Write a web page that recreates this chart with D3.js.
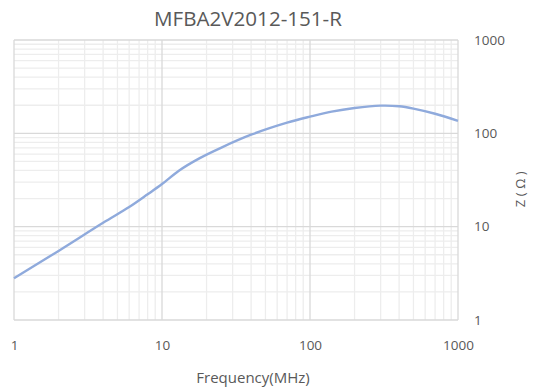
<!DOCTYPE html>
<html><head><meta charset="utf-8">
<script src="https://cdn.jsdelivr.net/npm/d3@7"></script>
<style>html,body{margin:0;padding:0;background:#fff}svg{display:block}text{font-family:"Open Sans",sans-serif;fill:#595959}</style>
</head><body>
<svg id="c" width="536" height="390"></svg>
<script>
const title = "MFBA2V2012-151-R";
const xTitle = "Frequency(MHz)";
const yTitle = "Z(Ω)";
const freq = [1, 2, 4, 6, 8, 10, 13, 18, 25, 40, 70, 100, 140, 200, 300, 400, 500, 700, 1000];
const impedance = [2.8, 5.5, 11, 16.2, 22.2, 28.6, 39.8, 54.3, 70, 96.6, 130, 151, 171, 187, 198, 195, 184, 162, 136];
const xTicks = [1, 10, 100, 1000];
const yTicks = [1, 10, 100, 1000];

const svg = d3.select("#c");
const m = {l: 14, r: 458, t: 40, b: 320};
const x = d3.scaleLog().domain([1, 1000]).range([m.l, m.r]);
const y = d3.scaleLog().domain([1, 1000]).range([m.b, m.t]);

const minor = [];
for (let d = 1; d < 1000; d *= 10) for (let k = 2; k <= 9; k++) minor.push(d * k);

const g = svg.append("g");
g.selectAll(".vx").data(minor).join("line")
  .attr("x1", d => x(d)).attr("x2", d => x(d)).attr("y1", m.t).attr("y2", m.b)
  .attr("stroke", "#ededed").attr("stroke-width", 1.3);
g.selectAll(".hy").data(minor).join("line")
  .attr("y1", d => y(d)).attr("y2", d => y(d)).attr("x1", m.l).attr("x2", m.r)
  .attr("stroke", "#ededed").attr("stroke-width", 1.3);
g.selectAll(".mx").data(xTicks).join("line")
  .attr("x1", d => x(d)).attr("x2", d => x(d)).attr("y1", m.t).attr("y2", m.b)
  .attr("stroke", "#d9d9d9").attr("stroke-width", 1.3);
g.selectAll(".my").data(yTicks).join("line")
  .attr("y1", d => y(d)).attr("y2", d => y(d)).attr("x1", m.l).attr("x2", m.r)
  .attr("stroke", "#d9d9d9").attr("stroke-width", 1.3);

const line = d3.line().x((d, i) => x(freq[i])).y(d => y(d)).curve(d3.curveCatmullRom.alpha(0.5));
svg.append("path").datum(impedance).attr("d", line)
  .attr("fill", "none").attr("stroke", "#8faadc").attr("stroke-width", 2.4);

const xa = d3.axisBottom(x).tickValues(xTicks).tickFormat(d3.format("d")).tickSize(0).tickPadding(0);
const xg = svg.append("g").attr("transform", `translate(0,${m.b})`).call(xa);
xg.select(".domain").remove();
xg.selectAll("text").attr("y", 29.5).attr("dy", 0).style("font-size", "13.5px").attr("fill", "#595959");

const ya = d3.axisRight(y).tickValues(yTicks).tickFormat(d3.format("d")).tickSize(0).tickPadding(0);
const yg = svg.append("g").attr("transform", `translate(${m.r + 16},0)`).call(ya);
yg.select(".domain").remove();
yg.selectAll("text").attr("x", 0).style("font-size", "13.5px").attr("fill", "#595959");

svg.append("text").attr("x", 248).attr("y", 26).attr("text-anchor", "middle")
  .style("font-size", "20.6px").text(title);
svg.append("text").attr("x", 253).attr("y", 383).attr("text-anchor", "middle")
  .style("font-size", "15px").text(xTitle);
svg.append("text").attr("transform", "translate(525,187.5) rotate(-90)").attr("text-anchor", "middle")
  .style("font-size", "13px").style("letter-spacing", "3.5px").text(yTitle);
</script>
</body></html>
